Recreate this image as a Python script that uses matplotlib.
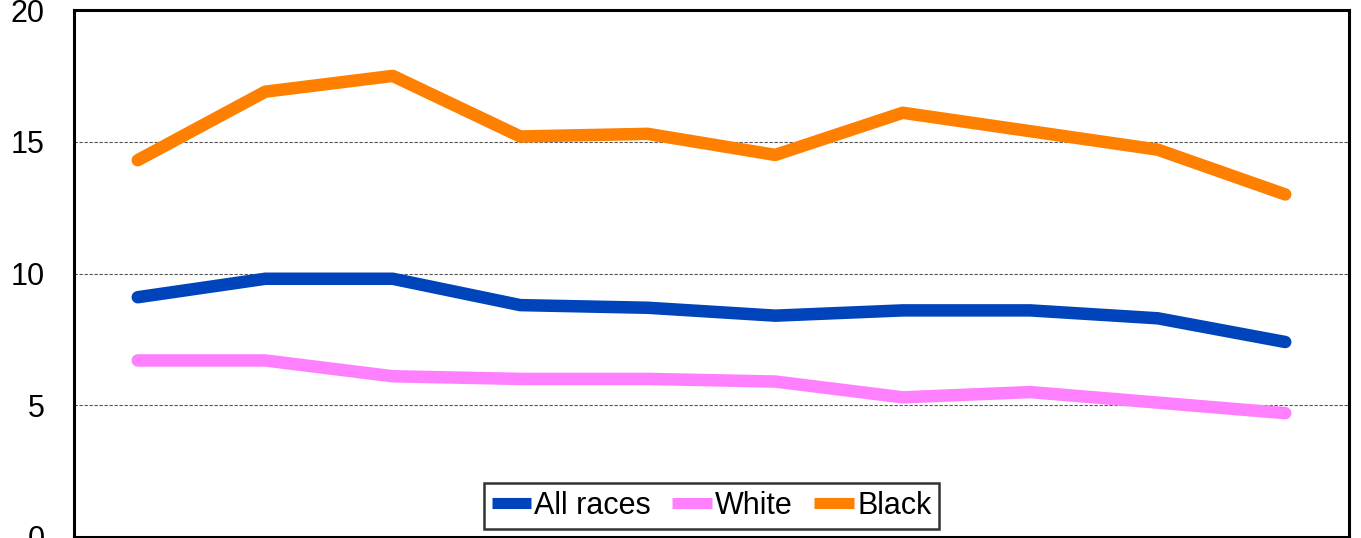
import matplotlib
matplotlib.use('Agg')
import matplotlib.pyplot as plt
import numpy as np

plt.rcParams['font.family'] = ['Liberation Sans', 'DejaVu Sans']

# Data (10 unlabeled periods)
periods = np.arange(10)
all_races = [9.1, 9.8, 9.8, 8.8, 8.7, 8.4, 8.6, 8.6, 8.3, 7.4]
white = [6.7, 6.7, 6.1, 6.0, 6.0, 5.9, 5.3, 5.5, 5.1, 4.7]
black = [14.3, 16.9, 17.5, 15.2, 15.3, 14.5, 16.1, 15.4, 14.7, 13.0]

series = [('All races', all_races, '#0044BB'),
          ('White', white, '#FF80FF'),
          ('Black', black, '#FF8000')]

fig = plt.figure(figsize=(13.61, 5.38), dpi=100)
ax = fig.add_axes([74 / 1361, 1 / 538, 1275 / 1361, 527 / 538])

for name, vals, col in series:
    ax.plot(periods, vals, color=col, linewidth=9, label=name,
            solid_capstyle='round', solid_joinstyle='round')

ax.set_xlim(-0.5, 9.5)
ax.set_ylim(0, 20)
ax.set_yticks([0, 5, 10, 15, 20])
ax.set_xticks([])
ax.tick_params(axis='y', length=0, pad=21, labelsize=22)
for y in [5, 10, 15]:
    ax.axhline(y, color='#555555', linestyle=(0, (3, 1.5)), linewidth=0.8, zorder=0)
for s in ax.spines.values():
    s.set_linewidth(2.2)
    s.set_color('black')

leg = ax.legend(loc='lower center', bbox_to_anchor=(0.5, 0.01), ncol=3,
                fontsize=22, frameon=True, fancybox=False, handlelength=1.3,
                handletextpad=0.1, columnspacing=0.7, borderpad=0.25,
                borderaxespad=0.1)
leg.get_frame().set_edgecolor('black')
leg.get_frame().set_linewidth(1.8)
for h in leg.get_lines():
    h.set_linewidth(8)
    h.set_solid_capstyle('butt')

fig.savefig('out.png', dpi=100)
